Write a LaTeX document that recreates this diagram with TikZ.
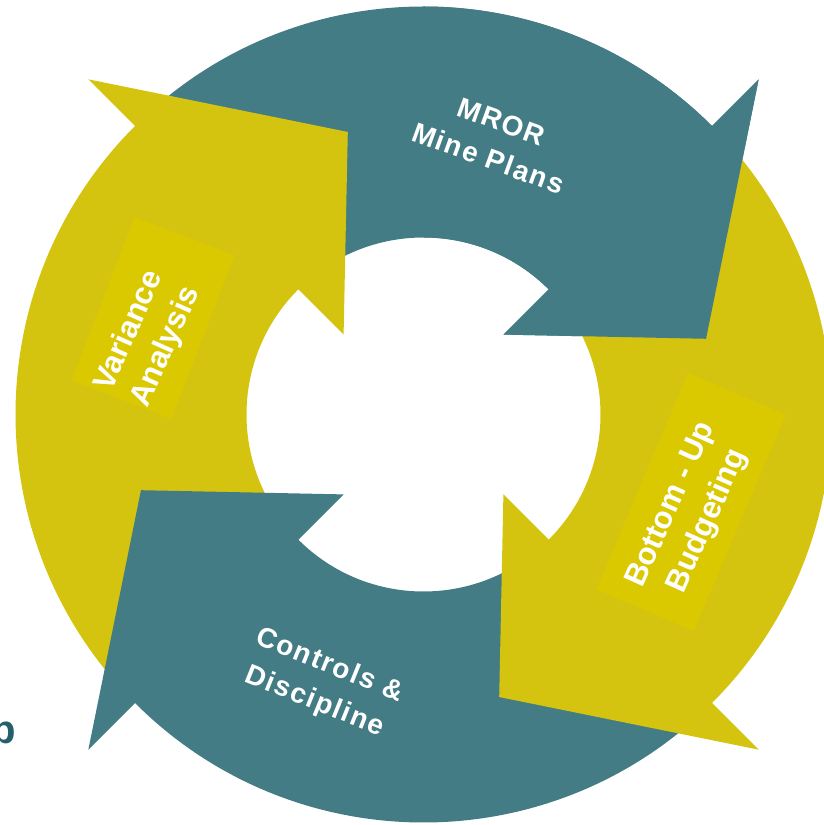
\documentclass[tikz,border=0pt]{standalone}
\usepackage{fontspec}
\setmainfont{Liberation Sans}
\usetikzlibrary{calc}
\definecolor{cycleteal}{HTML}{437C85}
\definecolor{cycleyellow}{HTML}{D5C40F}
\definecolor{labelyellow}{HTML}{DAC800}
\definecolor{darkteal}{HTML}{23606C}
\tikzset{
  tealtext/.style={text=white, align=center, rotate=-21,
    font=\bfseries\addfontfeature{LetterSpace=6}\fontsize{28}{39}\selectfont},
  yellowtext/.style={text=white, align=center, rotate=66,
    font=\bfseries\fontsize{31}{40}\selectfont},
  labelbox/.style={fill=labelyellow, inner sep=0pt}
}
\begin{document}
\begin{tikzpicture}[x=1pt, y=1pt]
  \useasboundingbox (0,0) rectangle (824,825);
  \begin{scope}[shift={(423.5,410.5)}]
    \foreach \b/\s/\col in {45/135/cycleteal, 135/225/cycleyellow, -135/-45/cycleteal, -45/45/cycleyellow, 45/90/cycleteal}
      \fill[\col] (\s:408) arc[start angle=\s, end angle=\b, radius=408]
        -- (\b:474) -- (\b-30:292.5) -- (\b:113) -- (\b:177)
        arc[start angle=\b, end angle=\s, radius=177] -- cycle;
  \end{scope}
  \node[labelbox, minimum width=175, minimum height=107, rotate=69] (varbox) at (153,507) {};
  \node[labelbox, minimum width=235, minimum height=106, rotate=67] (budbox) at (691,323) {};
  \node[tealtext, rotate=1] (mror) at (495,685) {MROR\\Mine Plans};
  \node[tealtext, rotate=-1] (controls) at (322,141) {Controls \&\\Discipline};
  \node[yellowtext] (budget) at (690,312) {Bottom - Up\\Budgeting};
  \node[yellowtext] (variance) at (148,486) {Variance\\Analysis};
  \node[font=\bfseries\fontsize{40}{40}\selectfont, text=darkteal, anchor=base east, inner sep=0pt] (cutword) at (16,81) {p};
\end{tikzpicture}
\end{document}
